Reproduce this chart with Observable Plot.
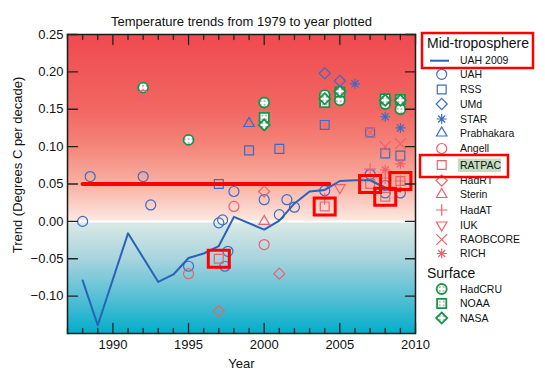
<!DOCTYPE html>
<html><head><meta charset="utf-8">
<script src="https://cdn.jsdelivr.net/npm/d3@7"></script>
<script src="https://cdn.jsdelivr.net/npm/@observablehq/plot@0.6"></script>
<style>
body{margin:0;background:#fff;font-family:"Liberation Sans",Arial,sans-serif;}
#wrap{position:relative;width:545px;height:373px;overflow:hidden;}
</style></head><body><div id="wrap"></div>
<script>
// ---------- data ----------
const titleText = "Temperature trends from 1979 to year plotted";
const yLabel = "Trend (Degrees C per decade)";
const xLabel = "Year";
const xMajor = [1990, 1995, 2000, 2005, 2010];
const xMinor = [1987,1988,1989,1991,1992,1993,1994,1996,1997,1998,1999,2001,2002,2003,2004,2006,2007,2008,2009];
const yTicks = [-0.10, -0.05, 0.00, 0.05, 0.10, 0.15, 0.20, 0.25];

// UAH 2009 trend line
const uah2009 = [[1988,-0.079],[1989,-0.139],[1991,-0.016],[1993,-0.081],[1994,-0.071],[1995,-0.049],[1996,-0.043],[1997,-0.033],[1998,0.006],[2000,-0.011],[2001,0.001],[2002,0.024],[2003,0.040],[2004,0.042],[2005,0.054],[2006,0.055],[2007,0.055],[2008,0.045],[2009,0.040]];
// reference red line
const refLine = [[1988,0.05],[2004.3,0.05]];

// Mid-troposphere (satellite, blue)
const uah = [[1988,0.000],[1988.5,0.060],[1992,0.060],[1992.5,0.022],[1995,-0.060],[1997,-0.002],[1997.25,0.002],[1997.6,-0.040],[1997.4,-0.060],[1998,0.040],[2000,0.029],[2001,0.009],[2001.5,0.029],[2002,0.019],[2004,0.041],[2007,0.063],[2008,0.048],[2008,0.038],[2009,0.038]];
const rss = [[1997,0.050],[1999,0.095],[2001,0.097],[2004,0.129],[2007,0.119],[2008,0.091],[2009,0.088]];
const umd = [[2004,0.198],[2005,0.188]];
const star = [[2006,0.184],[2008,0.140],[2009,0.125]];
const prabhakara = [[1999,0.131]];
// Mid-troposphere (radiosonde, red)
const angell = [[1992,0.169],[1995,-0.070],[1998,0.020],[2000,-0.031]];
const ratpac = [[1997,-0.050],[2004,0.020],[2007,0.050],[2008,0.033],[2009,0.054]];
const hadrt = [[1997,-0.120],[2000,0.040],[2001,-0.070]];
const sterin = [[2000,0.000]];
const hadat = [[2004,0.030],[2007,0.070],[2008,0.058],[2009,0.054]];
const iuk = [[2005,0.045]];
const raobcore = [[2007,0.119],[2008,0.100],[2009,0.104]];
const rich = [[2008,0.069],[2009,0.077]];
// Surface (green)
const hadcru = [[1992,0.179],[1995,0.109],[2000,0.159],[2004,0.169],[2005,0.162],[2008,0.157],[2009,0.150]];
const noaa = [[2000,0.139],[2004,0.159],[2005,0.173],[2008,0.164],[2009,0.163]];
const nasa = [[2000,0.129],[2004,0.164],[2005,0.174],[2008,0.162],[2009,0.162]];

// ---------- styles ----------
const BLUE = "#3d6cc2", LINEBLUE = "#2b62b8", RED = "#f0606a", GREEN = "#14964a", BOXRED = "#ff0000";
const FONT = '"Liberation Sans",Arial,sans-serif';

const ast8 = {draw(ctx, size){const r = Math.sqrt(size/Math.PI), d = r*Math.SQRT1_2;
  ctx.moveTo(0,-r);ctx.lineTo(0,r);ctx.moveTo(-r,0);ctx.lineTo(r,0);
  ctx.moveTo(-d,-d);ctx.lineTo(d,d);ctx.moveTo(-d,d);ctx.lineTo(d,-d);}};
const triDown = {draw(ctx, size){const s = Math.sqrt(size)*0.6824, t = s/2, u = s*Math.sqrt(3)/2;
  ctx.moveTo(0,s);ctx.lineTo(u,-t);ctx.lineTo(-u,-t);ctx.closePath();}};
const boxSym = {draw(ctx){ctx.rect(-10.5,-8.5,21,17);}};
const tickShape = {draw(ctx, l){ctx.moveTo(0,0);ctx.lineTo(0,-l);}};

const series = [
  {name:"UAH", data:uah, symbol:"circle", color:BLUE, r:5},
  {name:"RSS", data:rss, symbol:"square", color:BLUE, r:5},
  {name:"UMd", data:umd, symbol:"diamond2", color:BLUE, r:5},
  {name:"STAR", data:star, symbol:ast8, color:BLUE, r:5},
  {name:"Prabhakara", data:prabhakara, symbol:"triangle2", color:BLUE, r:5},
  {name:"Angell", data:angell, symbol:"circle", color:RED, r:5},
  {name:"RATPAC", data:ratpac, symbol:"square", color:RED, r:5},
  {name:"HadRT", data:hadrt, symbol:"diamond2", color:RED, r:5},
  {name:"Sterin", data:sterin, symbol:"triangle2", color:RED, r:5},
  {name:"HadAT", data:hadat, symbol:"plus", color:RED, r:3.8},
  {name:"IUK", data:iuk, symbol:triDown, color:RED, r:5},
  {name:"RAOBCORE", data:raobcore, symbol:"times", color:RED, r:5},
  {name:"RICH", data:rich, symbol:ast8, color:RED, r:5},
];
const surface = [
  {name:"HadCRU", data:hadcru, symbol:"circle", r:5},
  {name:"NOAA", data:noaa, symbol:"square", r:5.2},
  {name:"NASA", data:nasa, symbol:"diamond2", r:5},
];

const px = d => d[0], py = d => d[1];
const tickStyle = {stroke:"#222", strokeWidth:1.3, anchor:"start", shape:tickShape};

const chart = Plot.plot({
  width:545, height:373,
  marginLeft:67, marginRight:130, marginTop:34, marginBottom:40,
  x:{domain:[1987,2010], axis:null},
  y:{domain:[-0.15,0.25], axis:null},
  style:{fontFamily:FONT, fontSize:"13px", background:"white", color:"#111", overflow:"visible"},
  marks:[
    Plot.frame({fill:"url(#bgGrad)", stroke:"none"}),
    Plot.ruleY([0], {stroke:"white", strokeWidth:2}),
    ...surface.map(s => Plot.dot(s.data, {x:px, y:py, symbol:s.symbol, r:s.r, stroke:GREEN, strokeWidth:1.8, fill:"url(#dotPat)"})),
    ...series.map(s => Plot.dot(s.data, {x:px, y:py, symbol:s.symbol, r:s.r, stroke:s.color, strokeWidth:1.2, fill:"none"})),
    Plot.line(refLine, {x:px, y:py, stroke:BOXRED, strokeWidth:4}),
    Plot.line(uah2009, {x:px, y:py, stroke:LINEBLUE, strokeWidth:2}),
    Plot.dot(ratpac, {x:px, y:py, symbol:boxSym, stroke:BOXRED, strokeWidth:3, fill:"none"}),
    Plot.frame({stroke:"#1a1a1a", strokeWidth:1.5}),
    // inward ticks
    Plot.vector(xMajor, {x:d=>d, frameAnchor:"bottom", length:10, rotate:0, ...tickStyle}),
    Plot.vector(xMinor, {x:d=>d, frameAnchor:"bottom", length:5, rotate:0, ...tickStyle}),
    Plot.vector(xMajor, {x:d=>d, frameAnchor:"top", length:10, rotate:180, ...tickStyle}),
    Plot.vector(xMinor, {x:d=>d, frameAnchor:"top", length:5, rotate:180, ...tickStyle}),
    Plot.vector(yTicks, {y:d=>d, frameAnchor:"left", length:10, rotate:90, ...tickStyle}),
    Plot.vector(yTicks, {y:d=>d, frameAnchor:"right", length:10, rotate:-90, ...tickStyle}),
    // tick labels
    Plot.axisX(xMajor, {anchor:"bottom", tickSize:0, tickPadding:6, tickFormat:d=>String(d), label:null, fontSize:13}),
    Plot.axisY(yTicks, {anchor:"left", tickSize:0, tickPadding:4, tickFormat:d3.format(".2f"), label:null, fontSize:13}),
    // titles
    Plot.text([titleText], {text:d=>d, frameAnchor:"top", dy:-13, fontSize:13, lineAnchor:"middle"}),
    Plot.text([xLabel], {text:d=>d, frameAnchor:"bottom", dy:30, fontSize:13, lineAnchor:"middle"}),
  ]
});

// defs: background gradient and dotted fill
const svg = d3.select(chart);
const defs = svg.insert("defs", ":first-child");
const grad = defs.append("linearGradient").attr("id","bgGrad").attr("x1",0).attr("y1",0).attr("x2",0).attr("y2",1);
[[0,"#ef4a4f"],[0.25,"#f26762"],[0.375,"#f5857a"],[0.5,"#f9b1a4"],[0.623,"#fde8e1"],[0.627,"#dbe9e6"],[0.75,"#a7d4dd"],[0.875,"#58c0d5"],[1,"#02adca"]]
  .forEach(([o,c]) => grad.append("stop").attr("offset",o).attr("stop-color",c));
const pat = defs.append("pattern").attr("id","dotPat").attr("patternUnits","userSpaceOnUse").attr("width",3.8).attr("height",3.8);
pat.append("rect").attr("width",3.8).attr("height",3.8).attr("fill","white");
pat.append("circle").attr("cx",1.9).attr("cy",1.9).attr("r",0.6).attr("fill","#333");

// y axis label
svg.append("text").attr("transform","translate(17,165) rotate(-90)").attr("text-anchor","middle")
  .attr("dy","0.35em").attr("font-family",FONT).attr("font-size",13).attr("fill","#111").text(yLabel);

// legend
const lg = svg.append("g").attr("font-family",FONT).attr("fill","#111").attr("text-anchor","start");
const SX = 441.7, TX = 460;
lg.append("text").attr("x",427).attr("y",43).attr("dy","0.35em").attr("font-size",14).text("Mid-troposphere");
lg.append("line").attr("x1",430).attr("x2",449).attr("y1",60.7).attr("y2",60.7).attr("stroke",LINEBLUE).attr("stroke-width",2);
lg.append("text").attr("x",TX).attr("y",60.7).attr("dy","0.35em").attr("font-size",10.5).text("UAH 2009");
lg.append("rect").attr("x",422).attr("y",33).attr("width",111).attr("height",35).attr("fill","none").attr("stroke",BOXRED).attr("stroke-width",2.5);
const midY = [74.3, 89.5, 104, 119, 133, 148.5, 165, 180.5, 194.5, 210, 225, 239.5, 253.5];
lg.append("rect").attr("x",458).attr("y",158.5).attr("width",43).attr("height",13.5).attr("fill","#c6ddc1");
series.forEach((s,i) => {
  const y = midY[i];
  const sym = typeof s.symbol === "string" ? {circle:d3.symbolCircle, square:d3.symbolSquare, diamond2:d3.symbolDiamond2, triangle2:d3.symbolTriangle2, plus:d3.symbolPlus, times:d3.symbolTimes}[s.symbol] : s.symbol;
  lg.append("path").attr("transform",`translate(${SX},${y})`).attr("d", d3.symbol(sym, s.r*s.r*Math.PI)()).attr("fill","none").attr("stroke",s.color).attr("stroke-width",1.2);
  lg.append("text").attr("x",TX).attr("y",y).attr("dy","0.35em").attr("font-size",10.5).text(s.name);
});
lg.append("rect").attr("x",420).attr("y",155).attr("width",88).attr("height",22).attr("fill","none").attr("stroke",BOXRED).attr("stroke-width",2.5);
lg.append("text").attr("x",427).attr("y",272.7).attr("dy","0.35em").attr("font-size",14).text("Surface");
const surfY = [289, 303.5, 318];
surface.forEach((s,i) => {
  const y = surfY[i];
  const sym = {circle:d3.symbolCircle, square:d3.symbolSquare, diamond2:d3.symbolDiamond2}[s.symbol];
  lg.append("path").attr("transform",`translate(${SX},${y})`).attr("d", d3.symbol(sym, s.r*s.r*Math.PI)()).attr("fill","url(#dotPat)").attr("stroke",GREEN).attr("stroke-width",1.8);
  lg.append("text").attr("x",TX).attr("y",y).attr("dy","0.35em").attr("font-size",10.5).text(s.name);
});

document.getElementById("wrap").appendChild(chart);
</script></body></html>
